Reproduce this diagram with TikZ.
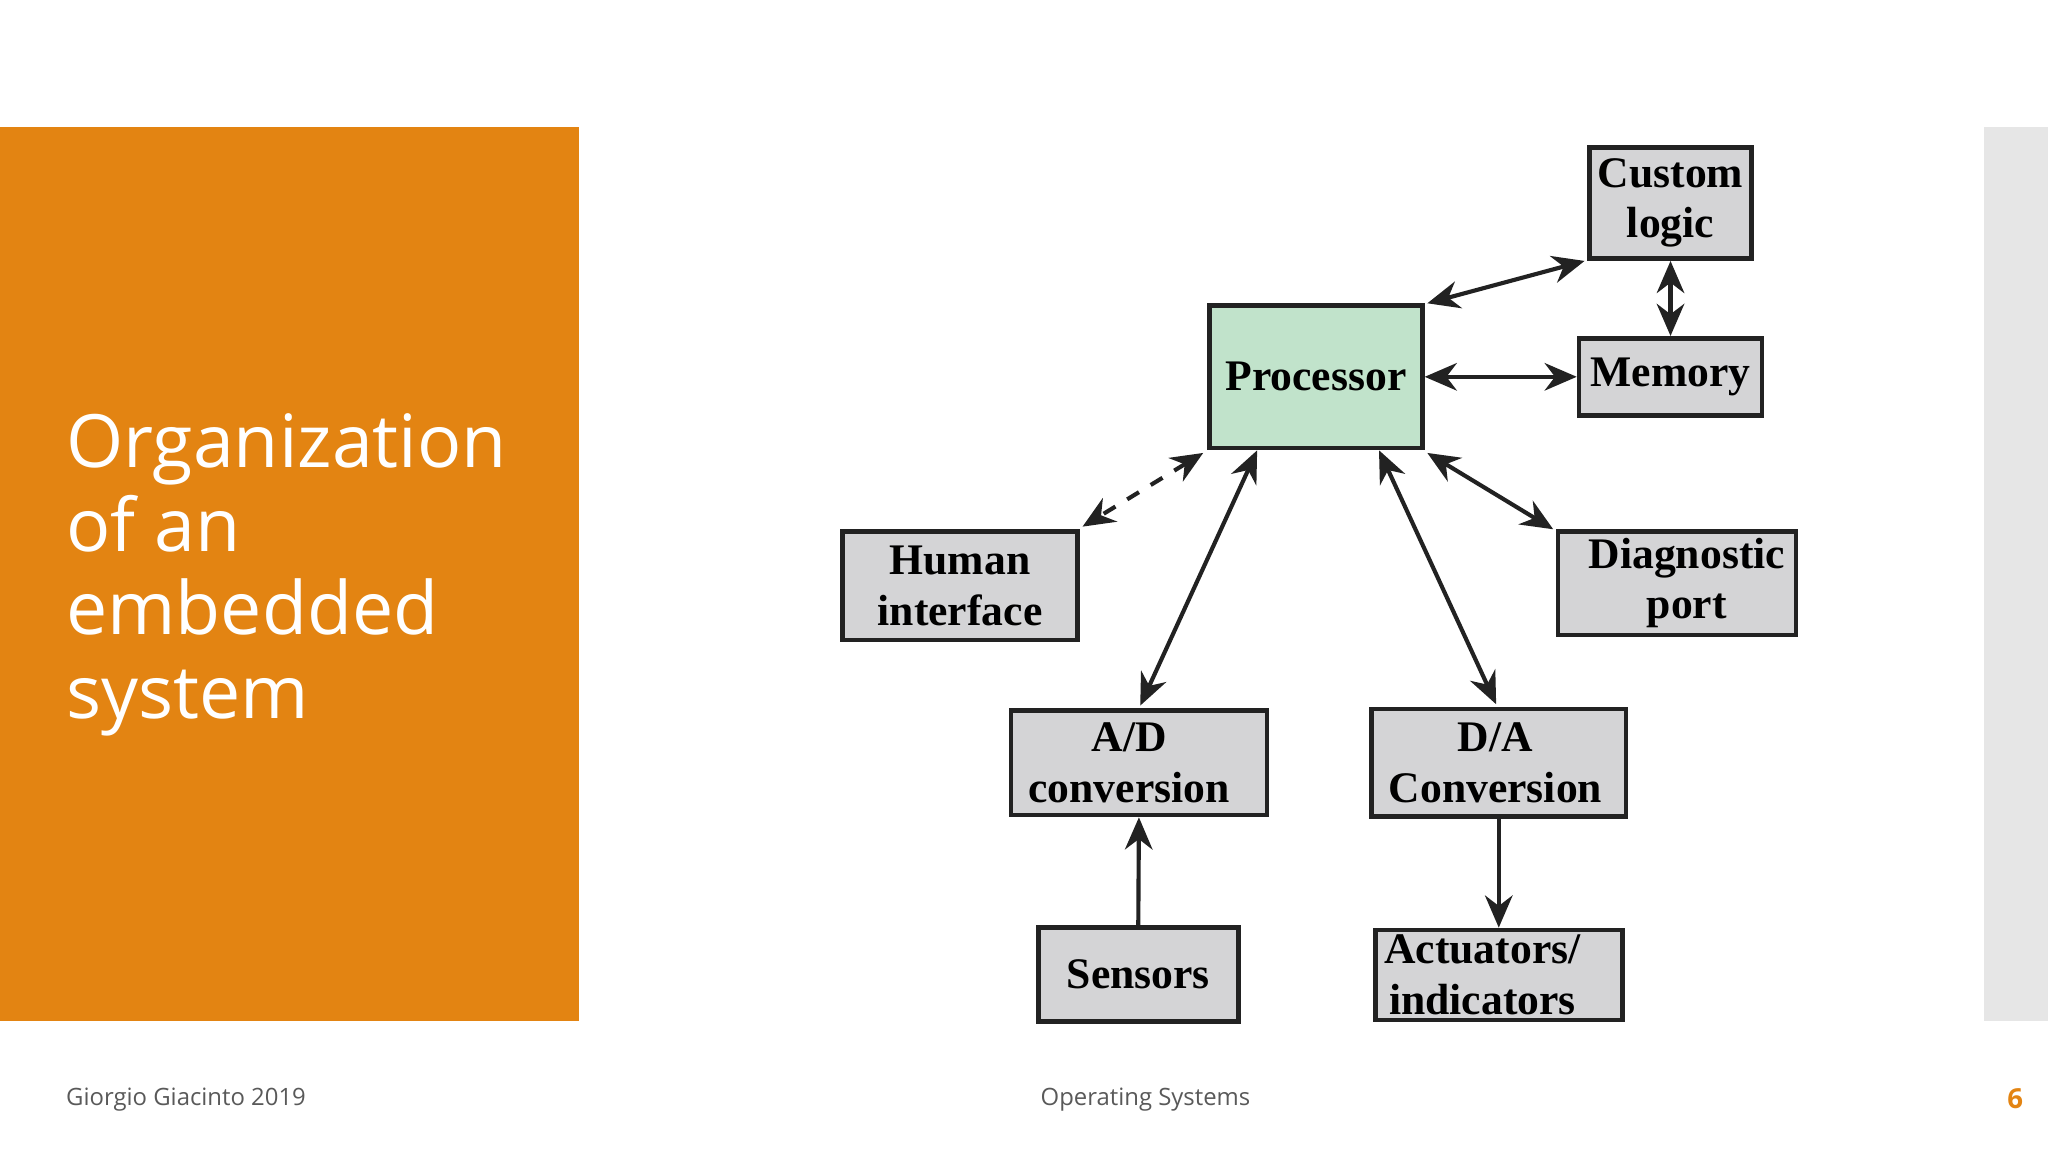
\documentclass[tikz,border=0pt]{standalone}
\usepackage{fontspec}
\setmainfont{Liberation Serif}
\newfontfamily\titlefont{Open Sans}
\usetikzlibrary{arrows.meta,calc}
\definecolor{orng}{HTML}{E38412}
\definecolor{boxg}{HTML}{D4D4D6}
\definecolor{procg}{HTML}{C1E3CB}
\definecolor{stripg}{HTML}{E6E6E6}
\definecolor{lnk}{HTML}{222222}
\begin{document}
\begin{tikzpicture}[x=0.01cm,y=-0.01cm,
  bx/.style={draw=lnk,line width=1pt,fill=boxg,font=\bfseries\fontsize{9.5}{11}\selectfont,align=center,inner sep=0pt},
  ar/.style={lnk,line width=0.9pt,{Stealth[length=7pt,width=6pt]}-{Stealth[length=7pt,width=6pt]}},
  ar1/.style={lnk,line width=0.9pt,-{Stealth[length=7pt,width=6pt]}}]
\useasboundingbox (0,0) rectangle (1568,882);
\fill[orng] (0,97) rectangle (443,782);
\fill[stripg] (1519,97) rectangle (1568,782);
\node[anchor=north west,text=white,font=\titlefont\fontsize{16}{18.2}\selectfont,align=left,inner sep=0pt] (title) at (50,316) {Organization\\of an\\embedded\\system};
\node[anchor=west,font=\titlefont\fontsize{5.2}{6}\selectfont,text=black!65,inner sep=0pt] (f1) at (50,842) {Giorgio Giacinto 2019};
\node[font=\titlefont\fontsize{5.2}{6}\selectfont,text=black!65,inner sep=0pt] (f2) at (877,842) {Operating Systems};
\node[font=\titlefont\bfseries\fontsize{6}{7}\selectfont,text=orng,inner sep=0pt] (f3) at (1543,841) {6};

\node[bx,minimum width=124\pgflinewidth*0+1.24cm,minimum height=0.85cm] (cl) at (1279,155.5) {Custom\\logic};
\node[bx,fill=procg,minimum width=1.63cm,minimum height=1.09cm] (proc) at (1007.5,288.5) {Processor};
\node[bx,minimum width=1.40cm,minimum height=0.59cm] (mem) at (1279,288.5) {Memory};
\node[bx,minimum width=1.80cm,minimum height=0.83cm] (hi) at (735,448.5) {Human\\interface};
\node[bx,minimum width=1.82cm,minimum height=0.79cm] (dp) at (1284,446.5) {\hspace*{0.15cm}Diagnostic\\\hspace*{0.15cm}port};
\node[bx,minimum width=1.96cm,minimum height=0.80cm] (ad) at (872,584) {\hspace*{-0.15cm}A/D\\\hspace*{-0.15cm}conversion};
\node[bx,minimum width=1.95cm,minimum height=0.82cm] (da) at (1147.5,584) {\hspace*{-0.05cm}D/A\\\hspace*{-0.05cm}Conversion};
\node[bx,minimum width=1.53cm,minimum height=0.72cm] (sen) at (871.5,746) {Sensors};
\node[bx,minimum width=1.89cm,minimum height=0.69cm] (act) at (1147.5,746.5) {\hspace*{-0.25cm}Actuators/\\\hspace*{-0.25cm}indicators};

\draw[ar] ($(proc.north east)+(2,0)$) -- ($(cl.south west)+(-2,0)$);
\draw[ar] (cl.south) -- (mem.north);
\draw[ar] (proc.east) -- (mem.west);
\draw[ar,dashed] ($(proc.south west)+(-3,2)$) -- ($(hi.north east)+(2,-2)$);
\draw[ar] ($(proc.south west)!0.23!(proc.south east)$) -- ($(ad.north)+(1,-2)$);
\draw[ar] ($(proc.south west)!0.79!(proc.south east)$) -- ($(da.north)+(-2,-2)$);
\draw[ar] ($(proc.south east)+(2,2)$) -- ($(dp.north west)+(-2,0)$);
\draw[ar1] (sen.north) -- (ad.south);
\draw[ar1] (da.south) -- (act.north);
\end{tikzpicture}
\end{document}
